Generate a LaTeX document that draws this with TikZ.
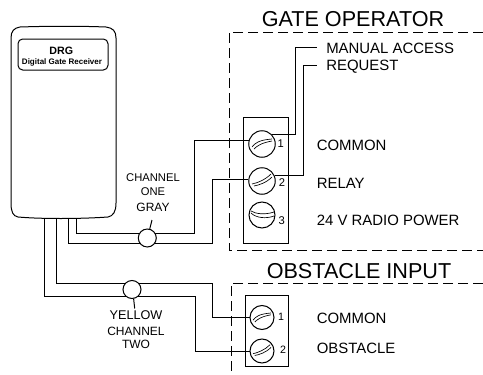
\documentclass[tikz,border=0pt]{standalone}
\usepackage{fontspec}
\setmainfont{Liberation Sans}
\tikzset{
  wire/.style={line width=0.75pt},
  frame/.style={line width=0.75pt,dash pattern={on 7.5pt off 3.75pt}},
  screw/.style={draw,circle,line width=0.75pt,inner sep=0pt,minimum size=#1},
  cable/.style={draw,circle,fill=white,line width=0.75pt,inner sep=0pt,minimum size=13.5pt},
  title/.style={inner sep=0.75pt,font=\fontsize{16.2}{19}\selectfont},
  side/.style={anchor=west,inner sep=0.75pt,font=\fontsize{11.2}{13}\selectfont},
  small/.style={inner sep=0.75pt,font=\fontsize{#1}{11}\selectfont},
  num/.style={inner sep=0.75pt,font=\fontsize{#1}{11}\selectfont},
  slot/.style={line width=0.5pt}
}
\newcommand{\slotrise}[2]{\draw [slot,shift={(#1)},scale=#2] (-10,3) .. controls (-7,-1) and (-3,-4) .. (10,-5) (-8,5) .. controls (-5,2) and (-1,-1) .. (10,-3);}
\newcommand{\slotflat}[2]{\draw [slot,shift={(#1)},scale=#2] (-10,3) .. controls (-5,2) and (3,-1) .. (9,-7) (-8,5) .. controls (-3,4) and (4,2) .. (10,-4);}
\newcommand{\slotsag}[2]{\draw [slot,shift={(#1)},scale=#2] (-11,-4) .. controls (-6,-1) and (3,0) .. (12,-3) (-11,-2) .. controls (-6,3) and (4,4) .. (12,1);}
\begin{document}
\begin{tikzpicture}[x=0.75pt,y=0.75pt,yscale=-1,xscale=1]
\useasboundingbox (0,0) rectangle (483,375);

%Receiver
\draw [line width=0.75pt] (11,38) .. controls (11,31) and (14,28) .. (20,27) .. controls (50,26) and (80,26) .. (106,27) .. controls (113,28) and (116,31) .. (116,38) -- (116,203) .. controls (116,212) and (113,216) .. (108,217) .. controls (80,219) and (40,219) .. (18,217) .. controls (13,216) and (11,212) .. (11,203) -- cycle;
\draw [line width=0.75pt,rounded corners=3.5pt] (18,39) rectangle (108,70);
\node (drg) [inner sep=0.75pt,font=\bfseries\fontsize{8}{10}\selectfont] at (61.3,51) {DRG};
\node (drgname) [inner sep=0.75pt,font=\bfseries\fontsize{6}{8}\selectfont] at (62,62.7) {Digital Gate Receiver};

%Frames
\draw [frame] (483,32) -- (229,32) -- (229,250) -- (483,250);
\draw [frame] (483,283) -- (231,283) -- (231,375);
\node (gatetitle) [title] at (353,19) {GATE OPERATOR};
\node (obsttitle) [title] at (359,271) {OBSTACLE INPUT};

%Terminal blocks
\draw [line width=0.75pt] (243,117) rectangle (288,243);
\draw [line width=0.75pt] (245,295) rectangle (288.5,366);

\node (scA) [screw=26.5*0.75pt] at (262,144) {};
\node (scB) [screw=26.5*0.75pt] at (262,181) {};
\node (scC) [screw=26*0.75pt] at (262,215) {};
\node (scD) [screw=24*0.75pt] at (262,317.5) {};
\node (scE) [screw=24*0.75pt] at (262,351) {};
\slotrise{scA}{1}
\slotflat{scB}{1}
\slotsag{scC}{1}
\slotrise{scD}{0.9}
\slotflat{scE}{0.9}

\node (numA) [num=8.4] at (280.7,144) {1};
\node (numB) [num=8.4] at (282,182.7) {2};
\node (numC) [num=8.4] at (281.7,221) {3};
\node (numD) [num=8] at (281,317) {1};
\node (numE) [num=8] at (283,350) {2};

% Text Node
\node (manual) [side] at (325,48) {MANUAL ACCESS};
\node (request) [side] at (325,66.7) {REQUEST};
\node (commonA) [side] at (315.5,145) {COMMON};
\node (relay) [side] at (315.5,183) {RELAY};
\node (power) [side] at (315.5,220) {24 V RADIO POWER};
\node (commonB) [side] at (315.5,318) {COMMON};
\node (obstacle) [side] at (315.5,348) {OBSTACLE};
\node (chone) [small=8.4] at (153,178) {CHANNEL};
\node (one) [small=8.4] at (153,192) {ONE};
\node (gray) [small=9] at (153,207) {GRAY};
\node (yellow) [small=9.5] at (136,315) {YELLOW};
\node (chtwo) [small=9] at (136,331) {CHANNEL};
\node (two) [small=9] at (136,344) {TWO};

%Wires
\coordinate (outA) at (76.7,218);
\coordinate (outB) at (68.5,218);
\coordinate (outC) at (56.5,218.5);
\coordinate (outD) at (44.5,218.5);
\coordinate (turnA) at (194.5,233);
\coordinate (turnB) at (212.7,243.5);
\coordinate (turnC) at (212,283);
\coordinate (turnD) at (195,296);
\coordinate (riseA) at (295,47.3);
\coordinate (riseB) at (303,65.7);
\coordinate (endA) at (317,47.3);
\coordinate (endB) at (317,65.7);
\coordinate (tagA) at (152,220);
\coordinate (tagB) at (134.7,308.5);

\draw [wire] (outA) |- (turnA) |- (scA.167);
\draw [wire] (outB) |- (turnB) |- (scB.172);
\draw [wire] (outC) |- (turnC) |- (scD);
\draw [wire] (outD) |- (turnD) |- (scE);
\draw [wire] (scA.43) -| (riseA) -- (endA);
\draw [wire] (scB.23) -| (riseB) -- (endB);

%Cable loops
\node (loopA) [cable] at (147.3,238) {};
\node (loopB) [cable] at (132,289.5) {};
\draw [wire] (loopA.75) -- (tagA);
\draw [wire] (loopB.280) -- (tagB);
\end{tikzpicture}
\end{document}
